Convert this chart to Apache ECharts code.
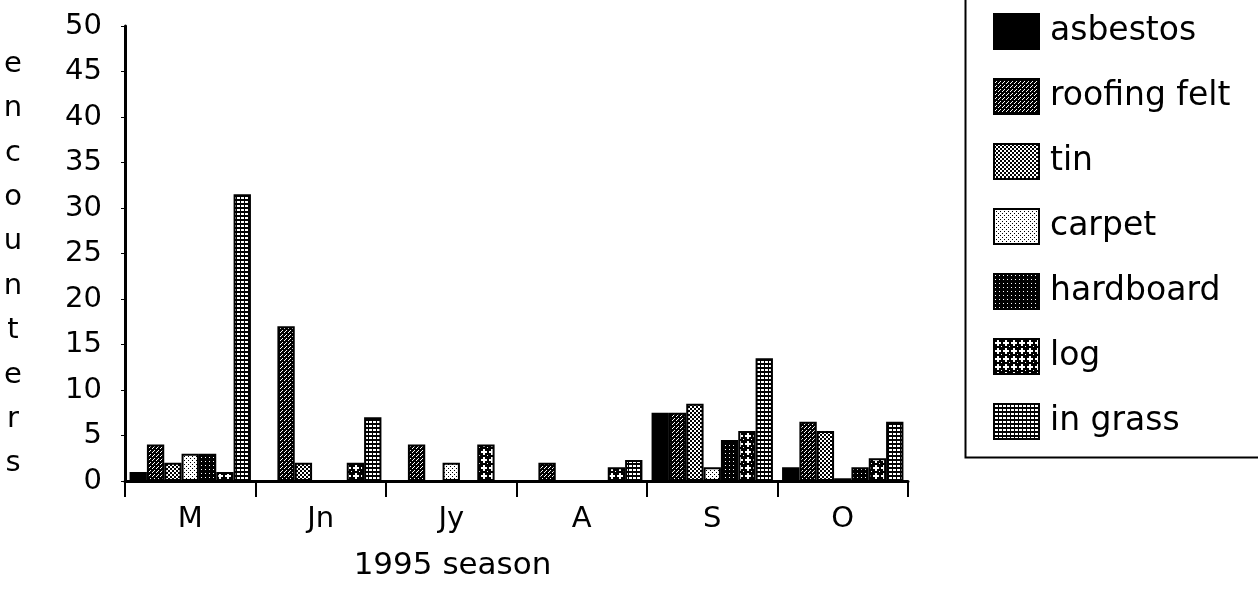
<!DOCTYPE html>
<html>
<head>
<meta charset="utf-8">
<script src="https://cdn.jsdelivr.net/npm/echarts@6/dist/echarts.min.js"></script>
<style>
html,body{margin:0;padding:0;background:#fff;}
#chart{width:1258px;height:611px;}
</style>
</head>
<body>
<div id="chart"></div>
<script>
// ---- data ----
var categories = ['M', 'Jn', 'Jy', 'A', 'S', 'O'];
var seriesNames = ['asbestos', 'roofing felt', 'tin', 'carpet', 'hardboard', 'log', 'in grass'];
var asbestos    = [1, 0, 0, 0, 7.5, 1.5];
var roofingFelt = [4, 17, 4, 2, 7.5, 6.5];
var tin         = [2, 2, 0, 0, 8.5, 5.5];
var carpet      = [3, 0, 2, 0, 1.5, 0.3];
var hardboard   = [3, 0, 0, 0, 4.5, 1.5];
var log         = [1, 2, 4, 1.5, 5.5, 2.5];
var inGrass     = [31.5, 7, 0, 2.3, 13.5, 6.5];
var yTicks = [0, 5, 10, 15, 20, 25, 30, 35, 40, 45, 50];
var yTitle = 'encounters';
var xTitle = '1995 season';

// ---- patterns (style only) ----
function pat(size, bg, fg, cells) {
  var c = document.createElement('canvas');
  c.width = size; c.height = size;
  var ctx = c.getContext('2d');
  ctx.fillStyle = bg; ctx.fillRect(0, 0, size, size);
  ctx.fillStyle = fg;
  cells.forEach(function (r) { ctx.fillRect(r[0], r[1], r[2], r[3]); });
  return { image: c, repeat: 'repeat' };
}
var fills = [
  '#000',
  pat(4, '#000', '#fff', [[0,0,1,1],[2,2,1,1],[1,3,1,1]]),
  pat(4, '#000', '#fff', [[0,0,2,2],[2,2,2,2]]),
  pat(4, '#fff', '#000', [[0,0,1,1],[2,2,1,1]]),
  pat(4, '#000', '#fff', [[1,1,1,1]]),
  pat(8, '#000', '#fff', [[3,1,2,6],[1,3,6,2],[7,7,1,1]]),
  pat(4, '#000', '#fff', [[1,1,3,2]])
];
var allData = [asbestos, roofingFelt, tin, carpet, hardboard, log, inGrass];

var FONT = 'DejaVu Sans';
var series = seriesNames.map(function (n, i) {
  return {
    name: n,
    type: 'bar',
    data: allData[i],
    barGap: '0%',
    barCategoryGap: '7%',
    itemStyle: { color: fills[i], borderColor: '#000', borderWidth: 2 },
    emphasis: { disabled: true }
  };
});

var chart = echarts.init(document.getElementById('chart'));
chart.setOption({
  animation: false,
  backgroundColor: '#fff',
  textStyle: { fontFamily: FONT, color: '#000' },
  grid: { left: 125, right: 350, top: 26, bottom: 130 },
  legend: {
    orient: 'vertical',
    left: 988, top: 8,
    icon: 'rect',
    itemWidth: 45, itemHeight: 35, itemGap: 28,
    textStyle: { fontFamily: FONT, fontSize: 33, lineHeight: 35, color: '#000', padding: [0, 0, 0, 6] },
    data: seriesNames
  },
  graphic: [{
    type: 'rect', left: 963, top: -10,
    shape: { width: 400, height: 465 },
    style: { fill: 'none', stroke: '#000', lineWidth: 2 }
  }, {
    type: 'text', x: 13, y: 42,
    style: {
      text: yTitle.split('').join('\n'),
      font: '29px "DejaVu Sans"',
      lineHeight: 44.4,
      textAlign: 'center',
      fill: '#000'
    }
  }],
  xAxis: {
    type: 'category',
    data: categories,
    name: xTitle,
    nameLocation: 'middle',
    nameGap: 69,
    nameTextStyle: { fontFamily: FONT, fontSize: 31, color: '#000', padding: [0, 128, 0, 0] },
    axisLine: { lineStyle: { color: '#000', width: 3 } },
    axisTick: { show: true, length: 16, lineStyle: { color: '#000', width: 2 } },
    axisLabel: { fontFamily: FONT, fontSize: 29, color: '#000', margin: 24 }
  },
  yAxis: {
    type: 'value',
    min: 0, max: 50, interval: 5,
    axisLine: { show: true, lineStyle: { color: '#000', width: 3 } },
    axisTick: { show: true, length: 4, lineStyle: { color: '#000', width: 1 } },
    splitLine: { show: false },
    axisLabel: {
      fontFamily: FONT, fontSize: 29, color: '#000', margin: 23,
      formatter: function (v) { return yTicks.indexOf(v) >= 0 ? String(v) : ''; }
    }
  },
  series: series
});
</script>
</body>
</html>
